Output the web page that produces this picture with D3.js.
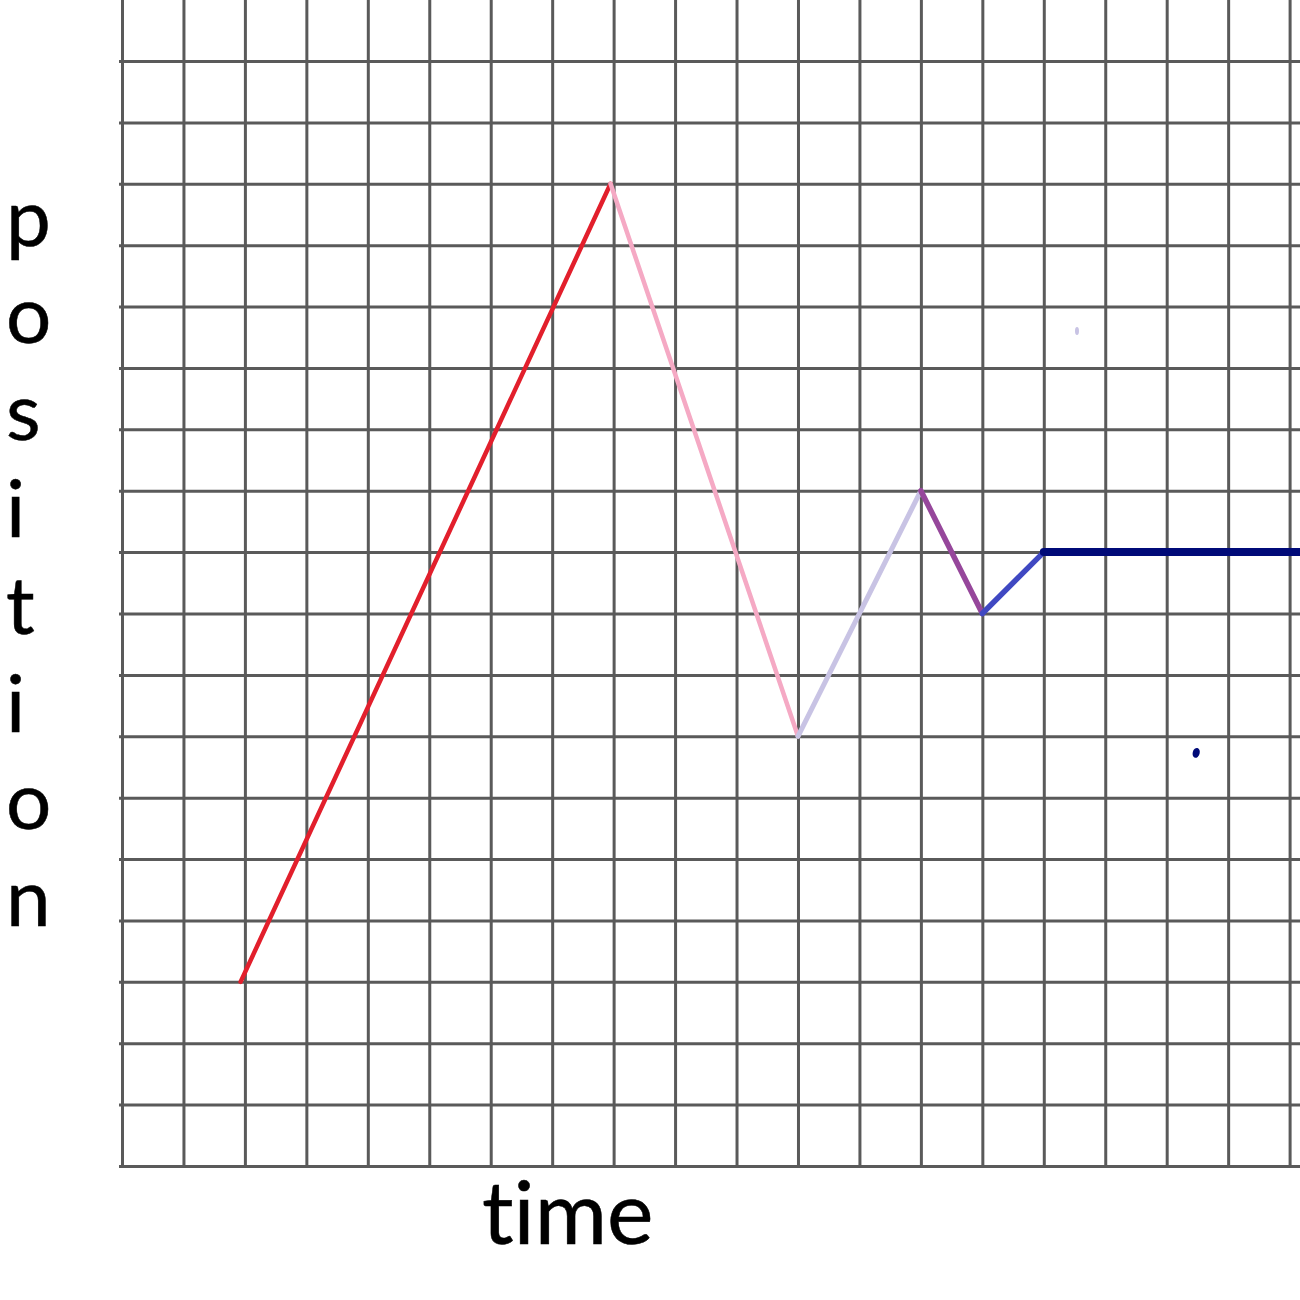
<!DOCTYPE html>
<html>
<head>
<meta charset="utf-8">
<script src="https://cdn.jsdelivr.net/npm/d3@7"></script>
<style>
  html, body { margin: 0; padding: 0; background: #ffffff; }
  svg { display: block; }
  text { font-variant-ligatures: none; font-feature-settings: "liga" 0, "clig" 0; }
</style>
</head>
<body>
<svg id="chart" width="1300" height="1300"></svg>
<script>
// ---- data (grid units) ----
const timeVals     = [1.93, 7.95, 11.0, 13.0, 14.0, 15.0, 19.2];
const positionVals = [3.0, 16.0, 7.0, 11.0, 9.0, 10.0, 10.0];
const segmentColors = ["#e21f2c", "#f5a9c4", "#c8c3e4", "#96479b", "#3f48c2", "#000a78"];
const strayDotTime     = [15.54, 17.48];
const strayDotPosition = [13.6, 6.73];
const strayDotColors   = ["#c8c3e4", "#000a78"];
const xGridTicks = d3.range(0, 20);   // 0..19
const yGridTicks = d3.range(0, 19);   // 0..18
const yAxisLabel = ["p", "o", "s", "i", "t", "i", "o", "n"];
const xAxisLabel = "time";

// ---- layout ----
const svg = d3.select("#chart");
const x = d3.scaleLinear().domain([0, 19]).range([122, 1289.6]);
const y = d3.scaleLinear().domain([0, 18]).range([1166, 61]);

// grid via axes
const gridColor = "#5a5a5a";
const gx = svg.append("g").attr("transform", "translate(0,1167)")
  .call(d3.axisTop(x).tickValues(xGridTicks).tickSize(1168).tickFormat(""));
gx.select(".domain").remove();
gx.selectAll(".tick line").attr("stroke", gridColor).attr("stroke-width", 3);

const gy = svg.append("g").attr("transform", "translate(119,0)")
  .call(d3.axisRight(y).tickValues(yGridTicks).tickSize(1181).tickFormat(""));
gy.select(".domain").remove();
gy.selectAll(".tick line").attr("stroke", gridColor).attr("stroke-width", 3);

// line segments
const widths = [4.5, 4.5, 5, 5.5, 5.5, 8];
const segs = d3.range(timeVals.length - 1).map(i => ({
  x1: timeVals[i], y1: positionVals[i],
  x2: timeVals[i + 1], y2: positionVals[i + 1],
  c: segmentColors[i], w: widths[i]
}));
svg.append("g").selectAll("line").data(segs).join("line")
  .attr("x1", d => x(d.x1)).attr("y1", d => y(d.y1))
  .attr("x2", d => x(d.x2)).attr("y2", d => y(d.y2))
  .attr("stroke", d => d.c).attr("stroke-width", d => d.w)
  .attr("stroke-linecap", "round");

// stray dots
svg.append("g").selectAll("ellipse").data(strayDotTime).join("ellipse")
  .attr("cx", (d, i) => x(d)).attr("cy", (d, i) => y(strayDotPosition[i]))
  .attr("rx", (d, i) => i === 0 ? 2 : 3.5)
  .attr("ry", (d, i) => i === 0 ? 4 : 5)
  .attr("transform", (d, i) => i === 1 ? `rotate(15,${x(d)},${y(strayDotPosition[i])})` : null)
  .attr("fill", (d, i) => strayDotColors[i]);

// labels
const font = "Lato, 'Open Sans', sans-serif";
svg.append("g").selectAll("text").data(yAxisLabel).join("text")
  .attr("x", 6).attr("y", (d, i) => 246 + i * 97.1)
  .attr("font-family", font).attr("font-size", 80).attr("fill", "#000")
  .attr("stroke", "#000").attr("stroke-width", 0.5)
  .text(d => d);

svg.append("text").attr("x", 482).attr("y", 1244)
  .attr("font-family", font).attr("font-size", 88).attr("fill", "#000")
  .attr("stroke", "#000").attr("stroke-width", 0.5)
  .text(xAxisLabel);
</script>
</body>
</html>
